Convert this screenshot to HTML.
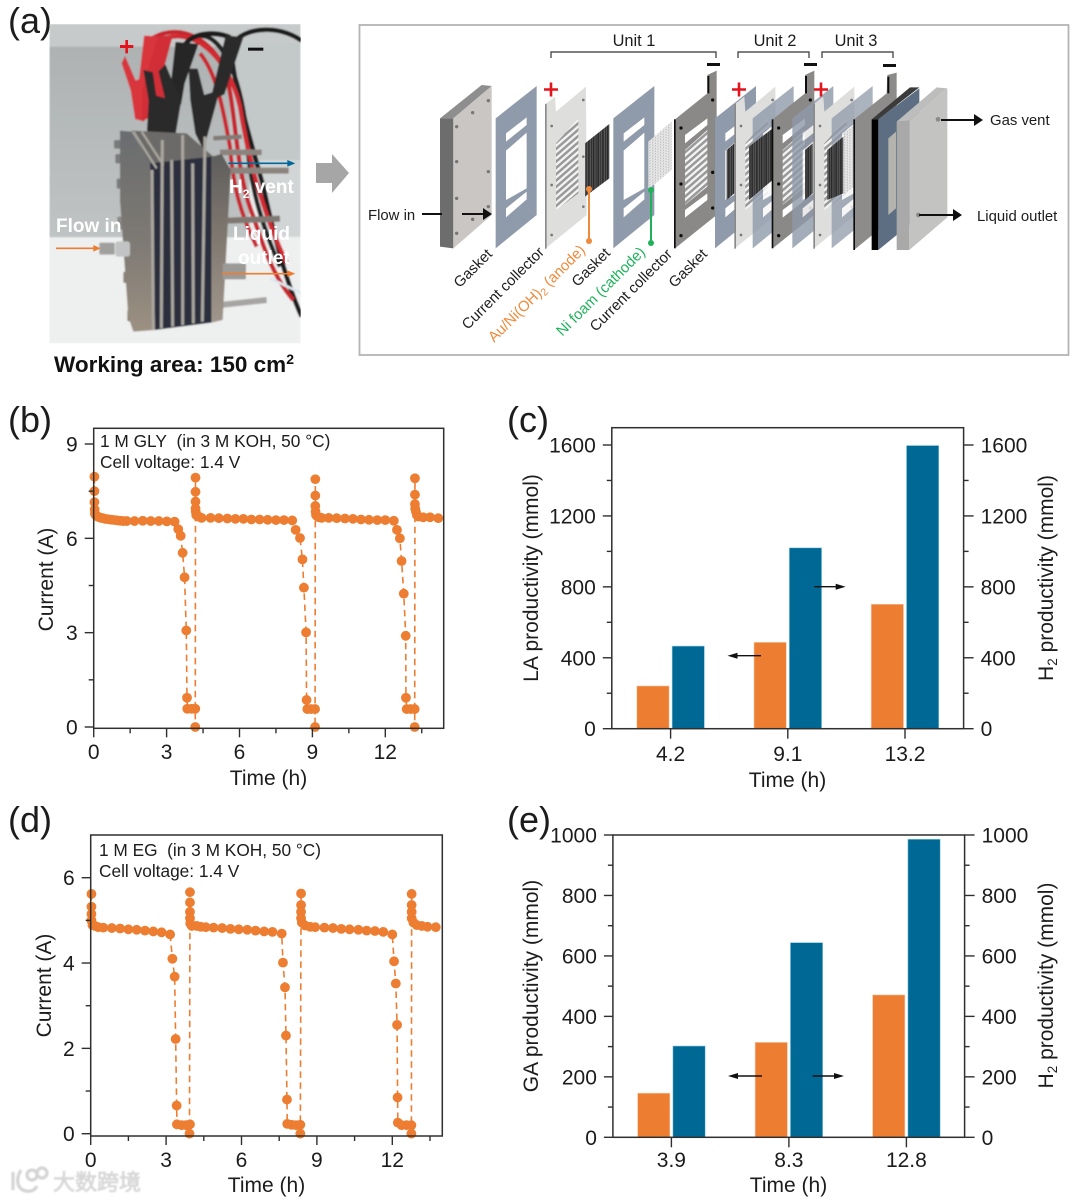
<!DOCTYPE html>
<html lang="en">
<head>
<meta charset="utf-8">
<title>Electrolyzer stack and productivity figure</title>
<style>
html,body{margin:0;padding:0;background:#fff;}
svg{display:block;font-family:"Liberation Sans","Noto Sans CJK SC",sans-serif;}
text{fill:#1c1c1c;}
</style>
</head>
<body>
<svg id="figure" xmlns="http://www.w3.org/2000/svg" width="1080" height="1200" viewBox="0 0 1080 1200">
<defs>
<clipPath id="photoClip"><rect x="148" y="72" width="754" height="958"/></clipPath>
<filter id="soft" x="-5%" y="-5%" width="110%" height="110%"><feGaussianBlur stdDeviation="2.2"/></filter>
<filter id="softText" x="-10%" y="-20%" width="120%" height="140%"><feGaussianBlur stdDeviation="0.35"/></filter>
<filter id="softDiagram" x="-5%" y="-5%" width="110%" height="110%"><feGaussianBlur stdDeviation="1.1"/></filter>
<filter id="wmGlow" x="-10%" y="-30%" width="120%" height="160%"><feGaussianBlur stdDeviation="0.7"/></filter>
<linearGradient id="metalLeft" x1="0" y1="0" x2="0" y2="1"><stop offset="0" stop-color="#6a6c6e"/><stop offset=".55" stop-color="#7d7973"/><stop offset="1" stop-color="#9c9082"/></linearGradient>
<linearGradient id="metalRight" x1="0" y1="0" x2="0" y2="1"><stop offset="0" stop-color="#5e5d5c"/><stop offset=".5" stop-color="#80786f"/><stop offset="1" stop-color="#a0968b"/></linearGradient>
<linearGradient id="wallGrad" x1="0" y1="0" x2="0" y2="1"><stop offset="0" stop-color="#aeb2b2"/><stop offset="1" stop-color="#bfc3c3"/></linearGradient>
<pattern id="stripes" width="20" height="19" patternUnits="userSpaceOnUse" patternTransform="skewY(-41)"><rect width="20" height="19" fill="#f4f4f4"/><rect width="20" height="10" fill="#9a9a9a"/></pattern>
<pattern id="foamDark" width="14" height="22" patternUnits="userSpaceOnUse" patternTransform="skewY(-38)"><rect width="14" height="22" fill="#2b2b2b"/><rect x="3" width="4" height="22" fill="#555"/><rect x="10" width="2" height="22" fill="#6a6a6a"/></pattern>
<pattern id="foamLight" width="8" height="8" patternUnits="userSpaceOnUse" patternTransform="skewY(-38)"><rect width="8" height="8" fill="#e6e6e6"/><circle cx="4" cy="4" r="2" fill="#b4b4b4"/></pattern>
<g id="gasketPlate"><polygon points="0,97 123,0 123,387 0,487" fill="#8f9aaa"/><polygon points="31,142 93,94 93,117 31,167" fill="#fff"/><polygon points="31,194 93,140 93,307 31,342" fill="#fff"/><polygon points="31,367 93,317 93,340 31,394" fill="#fff"/></g>
<g id="lightCollector"><polygon points="0,52 28,30 31,75 121,0 123,385 0,485" fill="#dededd"/><polygon points="-2,53 3,50 3,485 -2,487" fill="#8a8a8a"/><polygon points="31,170 98,95 98,320 31,370" fill="url(#stripes)"/><circle cx="18" cy="118" r="4" fill="#777"/><circle cx="18" cy="295" r="4" fill="#777"/><circle cx="18" cy="445" r="4" fill="#777"/><circle cx="113" cy="40" r="4" fill="#777"/><circle cx="113" cy="210" r="4" fill="#777"/><circle cx="113" cy="360" r="4" fill="#777"/></g>
<g id="darkCollector"><polygon points="0,146 97,68 97,13 125,0 125,433 0,533" fill="#8b8987"/><rect x="-3" y="146" width="5" height="387" fill="#111"/><rect x="97" y="16" width="6" height="52" fill="#111"/><polygon points="30,193 97,143 97,163 30,218" fill="#fff"/><polygon points="30,238 97,178 97,348 30,403" fill="url(#stripes)"/><polygon points="30,418 97,368 97,388 30,441" fill="#fff"/><circle cx="18" cy="172" r="5" fill="#111"/><circle cx="18" cy="340" r="5" fill="#111"/><circle cx="18" cy="495" r="5" fill="#111"/><circle cx="113" cy="88" r="5" fill="#111"/><circle cx="113" cy="305" r="5" fill="#111"/><circle cx="113" cy="412" r="5" fill="#111"/></g>
</defs>

<rect width="1080" height="1200" fill="#fff"/>

<!-- Panel labels -->
<text x="8" y="33" font-size="36">(a)</text>
<text x="8" y="432" font-size="36">(b)</text>
<text x="507" y="432" font-size="36">(c)</text>
<text x="8" y="832" font-size="36">(d)</text>
<text x="507" y="832" font-size="36">(e)</text>

<!-- Panel a: photo -->
<g transform="scale(0.33333)" clip-path="url(#photoClip)">
<g filter="url(#soft)">
<rect x="148" y="72" width="754" height="958" fill="#e9eaea"/>
<rect x="148" y="72" width="754" height="70" fill="#c7caca"/>
<rect x="148" y="140" width="600" height="572" fill="url(#wallGrad)"/>
<rect x="690" y="130" width="212" height="370" fill="#c3c8c8"/>
<rect x="780" y="480" width="122" height="230" fill="#d2d5d5"/>
<rect x="148" y="712" width="754" height="318" fill="#eeefef"/>
<path d="M905 122 C830 70 730 85 700 130 C680 180 740 380 790 560 C820 700 860 850 905 950" fill="none" stroke="#1c1c1c" stroke-width="14"/>
<path d="M590 110 C660 90 720 220 740 400 C745 520 770 640 840 800" fill="none" stroke="#222" stroke-width="13"/>
<path d="M450 120 C520 70 620 100 670 200 C710 300 700 500 760 650 C790 740 820 830 880 900" fill="none" stroke="#c7262e" stroke-width="13"/>
<path d="M505 112 C600 90 690 190 720 320 C745 480 790 640 860 790" fill="none" stroke="#d12a31" stroke-width="13"/>
<path d="M600 160 C650 220 670 330 690 440 C700 560 720 640 770 740" fill="none" stroke="#c9272e" stroke-width="12"/>
<line x1="640" y1="415" x2="725" y2="410" stroke="#827a74" stroke-width="13"/>
<line x1="660" y1="457" x2="785" y2="457" stroke="#8b837d" stroke-width="17"/>
<line x1="680" y1="512" x2="866" y2="512" stroke="#8b837d" stroke-width="18"/>
<line x1="680" y1="662" x2="840" y2="656" stroke="#7f7872" stroke-width="18"/>
<line x1="660" y1="915" x2="800" y2="900" stroke="#a7a5a3" stroke-width="18"/>
<line x1="810" y1="835" x2="905" y2="880" stroke="#dbe6ee" stroke-width="8"/>
<polygon points="435,110 468,112 455,240 430,280 428,360 408,355 395,270 368,190 375,175 405,245 420,240" fill="#d8343c" stroke="#d8343c" stroke-width="6"/>
<polygon points="475,112 515,108 490,200 495,300 470,320 445,350 430,360 430,270" fill="#d12f37" stroke="#d12f37" stroke-width="6"/>
<path d="M550 145 C565 100 640 90 690 112" fill="none" stroke="#1a1a1a" stroke-width="15"/>
<polygon points="530,130 590,135 550,250 540,310 510,310" fill="#262626" stroke="#262626" stroke-width="8"/>
<polygon points="435,215 455,220 465,290 500,300 480,215 495,200 520,260 540,300 520,420 490,470 470,430 445,390 450,300" fill="#2a2a2a" stroke="#2a2a2a" stroke-width="8"/>
<polygon points="680,110 725,115 670,280 650,290 620,400 610,440 590,400 575,300 570,210 590,210 610,290 640,280" fill="#2b2b2b" stroke="#2b2b2b" stroke-width="8"/>
<rect x="342" y="420" width="24" height="26" rx="5" fill="#7a7a7a"/>
<rect x="346" y="462" width="24" height="28" rx="5" fill="#7a7a7a"/>
<rect x="350" y="536" width="24" height="30" rx="5" fill="#7c7c7c"/>
<rect x="352" y="650" width="26" height="38" rx="5" fill="#8a8a8a"/>
<rect x="370" y="815" width="24" height="34" rx="5" fill="#8a8279"/>
<rect x="382" y="930" width="24" height="34" rx="5" fill="#8a8279"/>
<polygon points="360,392 395,395 450,490 465,990 400,995 385,950 360,600" fill="url(#metalLeft)"/>
<polygon points="395,392 560,400 640,470 450,492" fill="#6c6a67"/>
<polygon points="450,490 635,470 635,968 465,990" fill="#2b2d3d"/>
<polygon points="635,470 665,462 692,510 668,960 635,968" fill="url(#metalRight)"/>
<line x1="400" y1="395" x2="470" y2="505" stroke="#a8a49e" stroke-width="7"/>
<line x1="425" y1="395" x2="490" y2="495" stroke="#a8a49e" stroke-width="7"/>
<line x1="456" y1="510" x2="460" y2="990" stroke="#aaa69f" stroke-width="9"/>
<line x1="487" y1="420" x2="484" y2="985" stroke="#aaa69f" stroke-width="9"/>
<line x1="515" y1="480" x2="518" y2="980" stroke="#aaa69f" stroke-width="9"/>
<line x1="548" y1="405" x2="548" y2="975" stroke="#aaa69f" stroke-width="9"/>
<line x1="578" y1="490" x2="580" y2="970" stroke="#aaa69f" stroke-width="9"/>
<line x1="615" y1="410" x2="607" y2="965" stroke="#aaa69f" stroke-width="9"/>
<rect x="298" y="728" width="46" height="36" rx="4" fill="#a0a09e"/>
<rect x="346" y="724" width="44" height="46" rx="8" fill="#c2c3c4"/>
<rect x="668" y="790" width="70" height="48" rx="4" fill="#9b9a97"/>
</g>
<line x1="168" y1="745" x2="285" y2="745" stroke="#ed7d31" stroke-width="5"/>
<polygon points="280,735 302,745 280,755" fill="#ed7d31"/>
<line x1="685" y1="490" x2="870" y2="490" stroke="#00689a" stroke-width="5"/>
<polygon points="862,480 886,490 862,500" fill="#00689a"/>
<line x1="665" y1="821" x2="870" y2="821" stroke="#ed7d31" stroke-width="5"/>
<polygon points="862,811 886,821 862,831" fill="#ed7d31"/>
<rect x="360" y="135" width="40" height="9" fill="#e3141c"/>
<rect x="376" y="120" width="8" height="40" fill="#e3141c"/>
<rect x="744" y="143" width="46" height="9" fill="#111"/>
</g>
<g filter="url(#softText)" font-weight="bold" font-size="19">
<text x="56" y="232" style="fill:#fff">Flow in</text>
<text x="229" y="193" style="fill:#fff" xml:space="preserve">H<tspan font-size="12" dy="5" style="fill:#fff">2</tspan><tspan dy="-5" style="fill:#fff"> vent</tspan></text>
<text x="233" y="240" style="fill:#fff">Liquid</text>
<text x="238" y="264" style="fill:#fff">outlet</text>
</g>
<text x="54" y="372" font-size="22.5" font-weight="bold" style="fill:#111">Working area: 150 cm<tspan font-size="14" dy="-8">2</tspan></text>
<polygon points="316,163 332,163 332,154 349,173 332,193 332,183 316,183" fill="#a6a6a6"/>

<!-- Panel a: exploded diagram -->
<rect x="359.5" y="25" width="709" height="330" fill="#fff" stroke="#b4b4b4" stroke-width="1.8"/>
<g transform="translate(430 30) scale(0.33333)" filter="url(#softDiagram)">
<polygon points="30,265 70,265 70,655 30,650" fill="#6d6d6d"/>
<polygon points="30,265 155,165 185,168 70,265" fill="#8e8e8e"/>
<polygon points="70,265 185,168 185,555 70,655" fill="#c9c6c3"/>
<circle cx="80" cy="290" r="5" fill="#777"/>
<circle cx="80" cy="395" r="5" fill="#777"/>
<circle cx="80" cy="505" r="5" fill="#777"/>
<circle cx="80" cy="610" r="5" fill="#777"/>
<circle cx="128" cy="248" r="5" fill="#777"/>
<circle cx="128" cy="568" r="5" fill="#777"/>
<circle cx="175" cy="212" r="5" fill="#777"/>
<circle cx="175" cy="425" r="5" fill="#777"/>
<circle cx="175" cy="530" r="5" fill="#777"/>
<use href="#gasketPlate" x="197" y="168"/>
<use href="#lightCollector" x="347" y="170"/>
<polygon points="465,340 538,282 538,445 465,500" fill="url(#foamDark)"/>
<use href="#gasketPlate" x="550" y="168"/>
<polygon points="655,335 725,275 725,420 655,478" fill="url(#foamLight)"/>
<use href="#darkCollector" x="735" y="122"/>
<use href="#gasketPlate" x="855" y="168"/>
<polygon points="890,360 913,340 913,490 890,510" fill="url(#foamDark)"/>
<use href="#lightCollector" x="915" y="170"/>
<use href="#gasketPlate" x="968" y="168" opacity=".8"/>
<polygon points="957,350 1028,295 1028,450 957,510" fill="url(#foamDark)"/>
<use href="#darkCollector" x="1028" y="122"/>
<use href="#gasketPlate" x="1087" y="168" opacity=".82"/>
<polygon points="1125,360 1148,340 1148,490 1125,510" fill="url(#foamDark)"/>
<use href="#lightCollector" x="1152" y="170"/>
<use href="#gasketPlate" x="1205" y="168" opacity=".75"/>
<polygon points="1192,360 1240,320 1240,490 1192,510" fill="url(#foamDark)"/>
<polygon points="1240,310 1272,285 1272,470 1240,495" fill="url(#foamLight)"/>
<polygon points="1272,268 1370,190 1372,135 1400,128 1400,555 1272,660" fill="#8e8c8a"/>
<rect x="1270" y="268" width="5" height="392" fill="#111"/>
<rect x="1372" y="140" width="6" height="50" fill="#111"/>
<polygon points="1325,268 1345,268 1345,660 1325,660" fill="#000"/>
<polygon points="1325,268 1440,172 1468,172 1345,268" fill="#3a3a3a"/>
<polygon points="1345,268 1468,175 1468,560 1345,660" fill="#5d6d82"/>
<polygon points="1375,325 1398,305 1398,535 1375,555" fill="#b5b3ae"/>
<polygon points="1400,275 1438,272 1438,660 1400,660" fill="#a9a9a9"/>
<polygon points="1400,275 1520,172 1552,175 1438,272" fill="#bdbdbd"/>
<polygon points="1438,272 1552,175 1552,562 1438,660" fill="#c3c3c1"/>
<circle cx="1524" cy="268" r="7" fill="#8a8a8a"/>
<circle cx="1465" cy="555" r="7" fill="#8a8a8a"/>
</g>
<g>
<line x1="589" y1="189" x2="589" y2="241" stroke="#ef8a3c" stroke-width="2"/>
<circle cx="589" cy="189" r="3" fill="#ef8a3c"/>
<circle cx="589" cy="241" r="3" fill="#ef8a3c"/>
<line x1="651" y1="190" x2="651" y2="243" stroke="#1fb25a" stroke-width="2"/>
<circle cx="651" cy="190" r="3" fill="#1fb25a"/>
<circle cx="651" cy="243" r="3" fill="#1fb25a"/>
<polyline points="551,58 551,52 716,52 716,58" fill="none" stroke="#333" stroke-width="1.2"/>
<polyline points="738,58 738,52 809,52 809,58" fill="none" stroke="#333" stroke-width="1.2"/>
<polyline points="822,58 822,52 893,52 893,58" fill="none" stroke="#333" stroke-width="1.2"/>
<rect x="707" y="63" width="13" height="3" fill="#111"/>
<rect x="804" y="63" width="13" height="3" fill="#111"/>
<rect x="883" y="64" width="13" height="3" fill="#111"/>
<path d="M544 89.5h14M551 82.5v14" stroke="#e3141c" stroke-width="2.6"/>
<path d="M732 89.5h14M739 82.5v14" stroke="#e3141c" stroke-width="2.6"/>
<path d="M814 89.5h14M821 82.5v14" stroke="#e3141c" stroke-width="2.6"/>
<line x1="422" y1="214" x2="442" y2="214" stroke="#111" stroke-width="2"/>
<line x1="462" y1="214" x2="485" y2="214" stroke="#111" stroke-width="2"/>
<polygon points="483,208 492,214 483,220" fill="#111"/>
<line x1="941" y1="120" x2="976" y2="120" stroke="#111" stroke-width="2"/>
<polygon points="974,114 983,120 974,126" fill="#111"/>
<line x1="919" y1="215" x2="955" y2="215" stroke="#111" stroke-width="2"/>
<polygon points="953,209 962,215 953,221" fill="#111"/>
</g>
<g font-size="14.9">
<text x="634" y="46" text-anchor="middle" font-size="16.4">Unit 1</text>
<text x="775" y="46" text-anchor="middle" font-size="16.4">Unit 2</text>
<text x="856" y="46" text-anchor="middle" font-size="16.4">Unit 3</text>
<text x="368" y="220">Flow in</text>
<text x="990" y="125">Gas vent</text>
<text x="977" y="221">Liquid outlet</text>
<text text-anchor="end" transform="translate(493 255) rotate(-45)">Gasket</text>
<text text-anchor="end" transform="translate(545 253) rotate(-45)">Current collector</text>
<text text-anchor="end" transform="translate(586 251) rotate(-45)" style="fill:#ef8a3c">Au/Ni(OH)<tspan font-size="10.5" dy="3" style="fill:#ef8a3c">2</tspan><tspan dy="-3" style="fill:#ef8a3c"> (anode)</tspan></text>
<text text-anchor="end" transform="translate(611 254) rotate(-45)">Gasket</text>
<text text-anchor="end" transform="translate(646 253) rotate(-45)" style="fill:#1fb25a">Ni foam (cathode)</text>
<text text-anchor="end" transform="translate(673 255) rotate(-45)">Current collector</text>
<text text-anchor="end" transform="translate(708 255) rotate(-45)">Gasket</text>
</g>

<!-- Chart captions and axis titles -->
<text x="100" y="447" font-size="17.3">1 M GLY&#160;&#160;(in 3 M KOH, 50 °C)</text>
<text x="100" y="468" font-size="17.3">Cell voltage: 1.4 V</text>
<text text-anchor="middle" font-size="21" transform="translate(53 579.5) rotate(-90)">Current (A)</text>
<text x="268.5" y="785" text-anchor="middle" font-size="21">Time (h)</text>
<text x="99" y="856" font-size="17.3">1 M EG&#160;&#160;(in 3 M KOH, 50 °C)</text>
<text x="99" y="877" font-size="17.3">Cell voltage: 1.4 V</text>
<text text-anchor="middle" font-size="21" transform="translate(51 985.5) rotate(-90)">Current (A)</text>
<text x="266.5" y="1192" text-anchor="middle" font-size="21">Time (h)</text>
<text text-anchor="middle" font-size="21" transform="translate(538 578) rotate(-90)">LA productivity (mmol)</text>
<text text-anchor="middle" font-size="21" transform="translate(1053 578) rotate(-90)">H<tspan font-size="13.5" dy="4">2</tspan><tspan dy="-4"> productivity (mmol)</tspan></text>
<text x="787.5" y="787" text-anchor="middle" font-size="21">Time (h)</text>
<text text-anchor="middle" font-size="21" transform="translate(538 986) rotate(-90)">GA productivity (mmol)</text>
<text text-anchor="middle" font-size="21" transform="translate(1053 985.5) rotate(-90)">H<tspan font-size="13.5" dy="4">2</tspan><tspan dy="-4"> productivity (mmol)</tspan></text>
<text x="788.5" y="1192" text-anchor="middle" font-size="21">Time (h)</text>

<!-- Watermark -->
<g>
<g filter="url(#wmGlow)" fill="none" stroke="#d4d4d4" stroke-width="3.2">
<path d="M13 1172v18M21 1170c-5 8-5 19 5 21 5 1 9-1 11-5"/>
<circle cx="32" cy="1175" r="5"/>
<circle cx="42" cy="1173" r="5"/>
</g>
<text x="53" y="1190" font-size="22" font-family="'Noto Sans CJK SC',sans-serif" filter="url(#wmGlow)" style="fill:#dcdcdc;stroke:#cfcfcf;stroke-width:.6">大数跨境</text>
</g>

<g id="charts"></g>
</svg>

<script>
// Panel b: current vs. time
const panelBTimes = [0.03,0.03,0.03,0.04,0.05,0.08,0.12,0.17,0.23,0.3,0.38,0.47,0.56,0.66,0.76,0.87,0.98,1.1,1.22,1.36,1.68,2.02,2.35,2.68,3.01,3.33,3.48,3.58,3.66,3.74,3.81,3.84,3.85,4.03,4.18,4.18,
  4.19,4.19,4.19,4.19,4.2,4.22,4.28,4.35,4.44,4.81,5.15,5.5,5.83,6.16,6.49,6.83,7.16,7.5,7.83,8.17,8.31,8.49,8.59,8.65,8.74,8.76,8.79,8.94,9.11,9.11,
  9.12,9.12,9.12,9.13,9.15,9.2,9.27,9.38,9.67,10.0,10.34,10.67,11.0,11.33,11.67,12.0,12.35,12.48,12.6,12.67,12.76,12.84,12.85,12.88,13.05,13.21,13.21,
  13.22,13.22,13.22,13.23,13.26,13.3,13.36,13.56,13.84,14.18];
const panelBCurrent = [7.96,7.5,7.15,6.92,6.79,6.74,6.71,6.69,6.67,6.65,6.64,6.62,6.61,6.6,6.59,6.58,6.57,6.56,6.55,6.55,6.55,6.56,6.55,6.55,6.54,6.53,6.29,6.08,5.54,4.76,3.07,0.93,0.58,0.58,0.58,0,
  7.93,7.48,7.17,6.95,6.85,6.74,6.7,6.68,6.65,6.65,6.64,6.63,6.62,6.62,6.6,6.6,6.59,6.58,6.58,6.57,6.27,6.01,5.33,4.43,3.01,0.86,0.57,0.57,0.57,0,
  7.88,7.36,7.03,6.85,6.74,6.7,6.67,6.65,6.65,6.64,6.63,6.62,6.6,6.59,6.58,6.58,6.56,6.27,6,5.28,4.24,2.9,0.93,0.57,0.57,0.57,0,
  7.91,7.39,7.09,6.95,6.85,6.74,6.69,6.67,6.67,6.64];
const panelBXTicks = [0,3,6,9,12];
const panelBXMinor = [1.5,4.5,7.5,10.5,13.5];
const panelBYTicks = [0,3,6,9];
const panelBYMinor = [1.5,4.5,7.5];

// Panel d: current vs. time
const panelDTimes = [0.03,0.03,0.03,0.03,0.07,0.17,0.3,0.5,0.84,1.17,1.5,1.83,2.16,2.49,2.82,3.16,3.25,3.34,3.38,3.42,3.43,3.62,3.79,3.95,3.93,
  3.95,3.95,3.95,3.95,3.96,4.02,4.22,4.38,4.58,4.89,5.23,5.56,5.89,6.23,6.56,6.9,7.23,7.6,7.65,7.73,7.77,7.81,7.82,7.99,8.17,8.34,8.34,
  8.37,8.37,8.37,8.37,8.4,8.53,8.73,8.93,9.3,9.64,9.97,10.3,10.65,10.98,11.31,11.64,12.0,12.07,12.14,12.19,12.21,12.22,12.37,12.57,12.76,12.76,
  12.77,12.77,12.77,12.77,12.84,12.97,13.17,13.4,13.73];
const panelDCurrent = [5.62,5.32,5.15,5.0,4.89,4.87,4.84,4.83,4.82,4.81,4.79,4.78,4.76,4.74,4.72,4.67,4.1,3.68,2.22,0.66,0.22,0.2,0.2,0.22,0,
  5.66,5.42,5.2,5.05,4.93,4.87,4.87,4.85,4.84,4.83,4.82,4.8,4.79,4.78,4.76,4.74,4.73,4.69,4.01,3.43,2.3,0.8,0.23,0.21,0.2,0.21,0,
  5.63,5.36,5.2,5.05,4.95,4.88,4.85,4.84,4.83,4.82,4.8,4.79,4.78,4.76,4.75,4.73,4.67,4.04,3.52,2.55,0.85,0.26,0.2,0.2,0.2,0,
  5.62,5.36,5.2,5.05,4.95,4.89,4.87,4.85,4.84];
const panelDXTicks = [0,3,6,9,12];
const panelDXMinor = [1.5,4.5,7.5,10.5,13.5];
const panelDYTicks = [0,2,4,6];
const panelDYMinor = [1,3,5];

// Panel c: LA and H2 productivity
const panelCCategories = ['4.2','9.1','13.2'];
const panelCLA = [241,487,702];
const panelCH2 = [466,1020,1597];
const panelCTicks = [0,400,800,1200,1600];
const panelCMinor = [200,600,1000,1400];

// Panel e: GA and H2 productivity
const panelECategories = ['3.9','8.3','12.8'];
const panelEGA = [146,314,471];
const panelEH2 = [302,644,986];
const panelETicks = [0,200,400,600,800,1000];
const panelEMinor = [100,300,500,700,900];

const NS = 'http://www.w3.org/2000/svg';
const INK = '#2f2f2f';
const ORANGE = '#ed7d31';
const BLUE = '#006895';
const chartsRoot = document.getElementById('charts');

function scale(d0, d1, r0, r1) {
  return function (v) { return r0 + (v - d0) * (r1 - r0) / (d1 - d0); };
}
function make(tag, attrs, parent, text) {
  const el = document.createElementNS(NS, tag);
  Object.keys(attrs).forEach(function (k) { el.setAttribute(k, attrs[k]); });
  if (text !== undefined) el.textContent = text;
  parent.appendChild(el);
  return el;
}
function tick(parent, x1, y1, x2, y2, name) {
  const el = make('line', {x1: x1, y1: y1, x2: x2, y2: y2, stroke: INK, 'stroke-width': 1.4}, parent);
  
  
}
function label(parent, x, y, anchor, text, name) {
  const el = make('text', {x: x, y: y, 'text-anchor': anchor, 'font-size': 21}, parent, text);
  
  
}
function frame(parent, box, name) {
  const el = make('rect', {x: box.left, y: box.top, width: box.right - box.left, height: box.bottom - box.top, fill: 'none', stroke: INK, 'stroke-width': 1.5}, parent);
  
  
}
function yAxisLeft(parent, y, box, ticks, minor, prefix) {
  ticks.forEach(function (v) {
    tick(parent, box.left - 9, y(v), box.left, y(v), prefix + '-y-tick');
    label(parent, box.left - 16, y(v) + 7.5, 'end', String(v), prefix + '-y-tick-label');
  });
  minor.forEach(function (v) {
    tick(parent, box.left - 5, y(v), box.left, y(v), prefix + '-y-minor-tick');
  });
}
function yAxisRight(parent, y, box, ticks, minor, prefix) {
  ticks.forEach(function (v) {
    tick(parent, box.right, y(v), box.right + 10, y(v), prefix + '-right-tick');
    label(parent, box.right + 17, y(v) + 7.5, 'start', String(v), prefix + '-right-tick-label');
  });
  minor.forEach(function (v) {
    tick(parent, box.right, y(v), box.right + 5, y(v), prefix + '-right-minor-tick');
  });
}

function drawLinePanel(cfg) {
  const g = make('g', {}, chartsRoot);
  
  
  const x = scale(0, 12, cfg.x0, cfg.x12);
  const y = scale(0, cfg.yRef, cfg.y0, cfg.yRefPx);
  const pts = cfg.times.map(function (t, i) { return x(t).toFixed(2) + ',' + y(cfg.current[i]).toFixed(2); });
  const series = make('polyline', {points: pts.join(' '), fill: 'none', stroke: ORANGE, 'stroke-width': 1.6, 'stroke-dasharray': '6.5 4.5'}, g);
  
  
  cfg.times.forEach(function (t, i) {
    const dot = make('circle', {cx: x(t), cy: y(cfg.current[i]), r: 4.9, fill: ORANGE}, g);
    
    
  });
  frame(g, cfg.box, cfg.name + '-frame');
  yAxisLeft(g, y, cfg.box, cfg.yTicks, cfg.yMinor, cfg.name);
  cfg.xTicks.forEach(function (v) {
    tick(g, x(v), cfg.box.bottom, x(v), cfg.box.bottom + 9, cfg.name + '-x-tick');
    label(g, x(v), cfg.xLabelY, 'middle', String(v), cfg.name + '-x-tick-label');
  });
  cfg.xMinor.forEach(function (v) {
    tick(g, x(v), cfg.box.bottom, x(v), cfg.box.bottom + 5, cfg.name + '-x-minor-tick');
  });
}

function drawBarPanel(cfg) {
  const g = make('g', {}, chartsRoot);
  
  
  const y = scale(0, cfg.yRef, cfg.y0, cfg.yRefPx);
  const centre = scale(0, 1, cfg.firstCentre, cfg.firstCentre + cfg.step);
  const barW = 32.3;
  cfg.categories.forEach(function (c, i) {
    const cx = centre(i);
    const a = make('rect', {x: cx - 1.5 - barW, y: y(cfg.left[i]), width: barW, height: cfg.y0 - y(cfg.left[i]), fill: ORANGE, stroke: '#f6cdb0', 'stroke-width': 0.6}, g);
    
    
    const b = make('rect', {x: cx + 1.5, y: y(cfg.right[i]), width: barW, height: cfg.y0 - y(cfg.right[i]), fill: BLUE, stroke: '#92cfe3', 'stroke-width': 0.6}, g);
    
    
    tick(g, cx, cfg.box.bottom, cx, cfg.box.bottom + 10, cfg.name + '-x-tick');
    label(g, cx, cfg.xLabelY, 'middle', c, cfg.name + '-x-tick-label');
  });
  frame(g, cfg.box, cfg.name + '-frame');
  yAxisLeft(g, y, cfg.box, cfg.ticks, cfg.minor, cfg.name);
  yAxisRight(g, y, cfg.box, cfg.ticks, cfg.minor, cfg.name);
}

function drawArrow(x1, x2, yPos, name) {
  const dir = x2 > x1 ? 1 : -1;
  const shaft = make('line', {x1: x1, y1: yPos, x2: x2 - dir * 6, y2: yPos, stroke: '#111', 'stroke-width': 1.4}, chartsRoot);
  
  
  const head = make('polygon', {points: x2 + ',' + yPos + ' ' + (x2 - dir * 10) + ',' + (yPos - 3) + ' ' + (x2 - dir * 10) + ',' + (yPos + 3), fill: '#111'}, chartsRoot);
  
  
}

drawLinePanel({name: 'panel-b', times: panelBTimes, current: panelBCurrent, xTicks: panelBXTicks, xMinor: panelBXMinor, yTicks: panelBYTicks, yMinor: panelBYMinor,
  box: {left: 93.7, right: 443.7, top: 428.3, bottom: 728.3}, x0: 93.7, x12: 385.3, y0: 727, yRef: 9, yRefPx: 444, xLabelY: 759});
drawLinePanel({name: 'panel-d', times: panelDTimes, current: panelDCurrent, xTicks: panelDXTicks, xMinor: panelDXMinor, yTicks: panelDYTicks, yMinor: panelDYMinor,
  box: {left: 90.7, right: 442.3, top: 835, bottom: 1136}, x0: 90.7, x12: 392.3, y0: 1133.7, yRef: 6, yRefPx: 877.7, xLabelY: 1167});
drawBarPanel({name: 'panel-c', categories: panelCCategories, left: panelCLA, right: panelCH2, ticks: panelCTicks, minor: panelCMinor, leftName: 'la-bar', rightName: 'h2-bar',
  box: {left: 611.8, right: 963.6, top: 427.7, bottom: 728.7}, y0: 728.7, yRef: 1600, yRefPx: 445, firstCentre: 670.6, step: 117.2, xLabelY: 761});
drawBarPanel({name: 'panel-e', categories: panelECategories, left: panelEGA, right: panelEH2, ticks: panelETicks, minor: panelEMinor, leftName: 'ga-bar', rightName: 'h2-bar',
  box: {left: 612.9, right: 964.6, top: 835, bottom: 1137.3}, y0: 1137.3, yRef: 1000, yRefPx: 835, firstCentre: 671.4, step: 117.5, xLabelY: 1167});
drawArrow(761, 727.5, 655.7, 'panel-c-left-arrow');
drawArrow(814.3, 845.7, 586.7, 'panel-c-right-arrow');
drawArrow(762, 728, 1076, 'panel-e-left-arrow');
drawArrow(812.5, 844, 1076, 'panel-e-right-arrow');
</script>
</body>
</html>
